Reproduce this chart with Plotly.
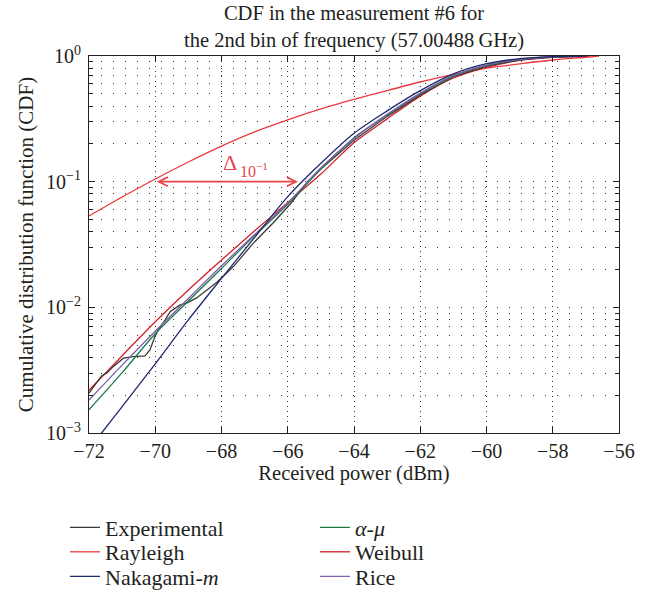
import plotly.graph_objects as go
import math

# ---------------- data ----------------
x_exp = [-72.0, -71.8, -71.62, -71.45, -71.27, -70.96, -70.66, -70.31, -70.16, -70.01,
         -69.91, -69.70, -69.55, -69.25, -69.05, -68.75, -68.44, -68.14, -67.64, -67.04,
         -66.43, -65.93, -65.4, -65.0, -64.0, -63.0, -62.0, -61.0, -60.0, -59.0, -58.0, -57.0]
y_exp = [2.075e-3, 2.455e-3, 2.844e-3, 3.02e-3, 3.373e-3, 3.936e-3, 4.055e-3, 4.10e-3, 4.58e-3, 5.85e-3,
         6.61e-3, 7.94e-3, 9.25e-3, 0.01045, 0.01079, 0.01189, 0.01374, 0.01585, 0.0211, 0.0324,
         0.0473, 0.0661, 0.100, 0.126, 0.214, 0.331, 0.490, 0.684, 0.832, 0.933, 0.982, 1.0]

x_ray = [-72, -71, -70, -69, -68, -67, -66, -65, -64, -63, -62, -61, -60, -59, -58, -57, -56.6]
y_ray = [0.0533, 0.0755, 0.105, 0.1435, 0.192, 0.249, 0.31, 0.379, 0.451, 0.531, 0.621, 0.713,
         0.80, 0.866, 0.929, 0.977, 1.0]

x_nak = [-72, -71.62, -71, -70, -69, -68, -67, -66, -65, -64, -63, -62, -61, -60, -59, -58, -57]
y_nak = [7.4e-4, 1.0e-3, 1.62e-3, 3.55e-3, 7.94e-3, 0.0170, 0.0360, 0.0760, 0.140, 0.243, 0.366,
         0.530, 0.720, 0.868, 0.953, 0.988, 1.0]

x_mod = [-72, -71, -70, -69, -68, -67, -66, -65, -64, -63, -62, -61, -60, -59, -58, -57]
y_alpha = [1.53e-3, 3.02e-3, 6.17e-3, 0.01122, 0.0204, 0.0372, 0.0661, 0.126, 0.224, 0.339,
           0.501, 0.692, 0.841, 0.938, 0.984, 1.0]
y_rice = [1.83e-3, 3.47e-3, 6.46e-3, 0.01175, 0.0214, 0.0380, 0.0676, 0.129, 0.221, 0.343,
          0.507, 0.700, 0.847, 0.940, 0.986, 1.0]

x_wei = [-72, -71, -70, -69, -68, -67, -66, -65, -64, -63, -62, -61, -60, -59, -58, -57, -56.9]
y_wei = [0.00219, 0.00412, 0.00767, 0.01374, 0.0238, 0.0406, 0.0684, 0.115, 0.204, 0.316, 0.479,
         0.668, 0.813, 0.923, 0.977, 0.995, 1.0]

x_ticks = [-72, -70, -68, -66, -64, -62, -60, -58, -56]
y_ticks = [1e-3, 1e-2, 1e-1, 1]
y_ticktext = ["10<sup>\u22123</sup>", "10<sup>\u22122</sup>", "10<sup>\u22121</sup>", "10<sup>0</sup>"]

delta_left, delta_right, delta_level = -70.0, -65.69, 0.1

# ---------------- styles ----------------
FONT = "Liberation Serif"
TXT = "#231f20"
C_EXP = "#3a3a3a"
C_RAY = "#ec3a3f"
C_NAK = "#1f2a6b"
C_ALP = "#1e7a45"
C_WEI = "#d0202a"
C_RIC = "#7d5fae"
C_ANN = "#e8454a"

fig = go.Figure()

def add(x, y, name, color, legend, shape="spline"):
    fig.add_trace(go.Scatter(
        x=x, y=y, mode="lines", name=name, legend=legend,
        line=dict(color=color, width=1.3, shape=shape, smoothing=0.8 if shape == "spline" else None),
    ))

add(x_ray, y_ray, "Rayleigh", C_RAY, "legend2")
add(x_wei, y_wei, "Weibull", C_WEI, "legend5")
add(x_exp, y_exp, "Experimental", C_EXP, "legend", shape="linear")
add(x_mod, y_alpha, "<i>\u03b1</i>-<i>\u03bc</i>", C_ALP, "legend4")
add(x_mod, y_rice, "Rice", C_RIC, "legend6")
add(x_nak, y_nak, "Nakagami-<i>m</i>", C_NAK, "legend3")

minor_vals = [m * 10 ** e for e in (-3, -2, -1) for m in range(2, 10)]

# legend placement: one entry per legend, two columns of three rows
PLOT_L, PLOT_W, PLOT_B, PLOT_H = 89, 530, 433, 377
LEG_FONT = 22
col_left = [65, 315]
row_center = [527.5, 552, 576.5]
legends = {}
for i, key in enumerate(["legend", "legend2", "legend3", "legend4", "legend5", "legend6"]):
    col, row = divmod(i, 3)
    legends[key] = dict(
        x=(col_left[col] - PLOT_L) / PLOT_W,
        y=(PLOT_B - row_center[row]) / PLOT_H,
        xanchor="left", yanchor="middle", orientation="v",
        bgcolor="rgba(0,0,0,0)", borderwidth=0, itemwidth=30,
        font=dict(family=FONT, size=LEG_FONT, color=TXT),
    )

fig.update_layout(
    width=662, height=600,
    margin=dict(l=89, r=43, t=56, b=167, autoexpand=False),
    paper_bgcolor="white", plot_bgcolor="white",
    font=dict(family=FONT, size=18, color=TXT),
    title=dict(text="CDF in the measurement #6 for<br>the 2nd bin of frequency (57.00488\u2009GHz)",
               x=0.5, xref="paper", xanchor="center", y=1 - 20 / 600, yref="container", yanchor="middle",
               font=dict(family=FONT, size=20.5, color=TXT)),
    xaxis=dict(range=[-72, -56], tickvals=x_ticks,
               ticktext=["\u2212" + str(abs(v)) for v in x_ticks],
               tickfont=dict(family=FONT, size=20, color=TXT),
               ticks="inside", ticklen=6, tickcolor=TXT, mirror="ticks",
               showline=True, linecolor=TXT, linewidth=1,
               showgrid=True, gridcolor="#333333", gridwidth=1, griddash="1px,4px",
               zeroline=False,
               title=dict(text="Received power (dBm)", standoff=4,
                          font=dict(family=FONT, size=20.5, color=TXT))),
    yaxis=dict(type="log", range=[-3, 0], tickvals=y_ticks, ticktext=y_ticktext,
               tickfont=dict(family=FONT, size=20, color=TXT), ticklabelstandoff=3,
               ticks="inside", ticklen=6, tickcolor=TXT, mirror="ticks",
               showline=True, linecolor=TXT, linewidth=1,
               showgrid=True, gridcolor="#333333", gridwidth=1, griddash="1px,11px",
               zeroline=False,
               minor=dict(tickvals=minor_vals, ticks="inside", ticklen=4, tickcolor=TXT,
                          showgrid=True, gridcolor="#333333", gridwidth=1, griddash="1px,11px"),
               title=dict(text="Cumulative distribution function (CDF)", standoff=6,
                          font=dict(family=FONT, size=21, color=TXT))),
    showlegend=True,
    **legends,
)

# delta annotation: double arrow at CDF = 0.1
fig.add_annotation(x=delta_right, y=math.log10(delta_level), ax=delta_left, ay=math.log10(delta_level),
                   xref="x", yref="y", axref="x", ayref="y", text="", showarrow=True,
                   arrowside="end+start", arrowhead=5, startarrowhead=5, arrowsize=1, startarrowsize=1,
                   arrowwidth=1.8, arrowcolor=C_ANN)
fig.add_annotation(x=-67.74, y=-0.845, xref="x", yref="y", text="\u0394", showarrow=False,
                   font=dict(family=FONT, size=22, color=C_ANN), xanchor="center", yanchor="middle")
fig.add_annotation(x=-67.50, y=-0.91, xref="x", yref="y", text="10<sup>\u22121</sup>", showarrow=False,
                   font=dict(family=FONT, size=16, color=C_ANN), xanchor="left", yanchor="middle")

fig.write_html("out.html")
